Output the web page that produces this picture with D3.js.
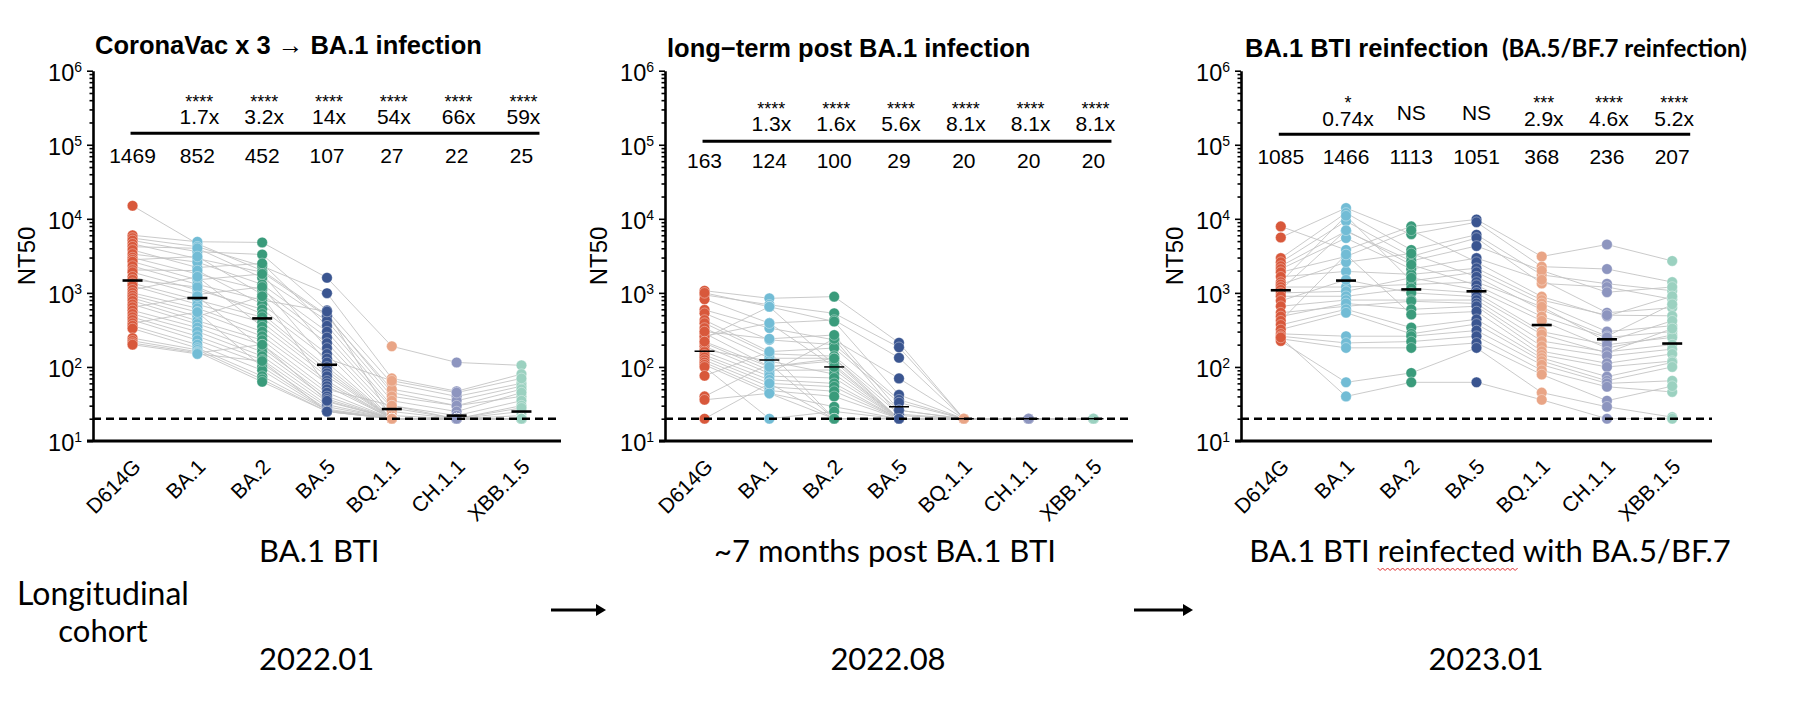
<!DOCTYPE html>
<html><head><meta charset="utf-8">
<script src="https://cdn.jsdelivr.net/npm/d3@7"></script>
<style>body{margin:0;background:#fff} svg{display:block}</style>
</head><body><svg id="c" width="1799" height="724"></svg>
<script>
const categories = ["D614G","BA.1","BA.2","BA.5","BQ.1.1","CH.1.1","XBB.1.5"];
const colors = ["#D8583B","#72BCD5","#3A9B7B","#3A5590","#E9A586","#8D95BF","#9BD1C0"];
const yTickExps = [1,2,3,4,5,6];

// Panel 1: CoronaVac x 3 -> BA.1 infection (one value per subject)
const p1_D614G = [15000,6000,5500,5100,4600,4200,3800,3350,3000,2800,2640,2300,2040,1900,1650,1500,1350,1250,1100,1000,920,850,780,700,640,580,520,470,430,390,360,330,245,225,210,200];
const p1_BA1   = [4600,4900,4200,3600,2900,4000,2200,2600,1800,3100,1500,1300,2000,1100,950,1200,800,700,1650,620,550,480,420,380,900,340,300,260,230,550,200,180,170,160,155,150];
const p1_BA2   = [2000,4800,2300,3300,1900,1600,2500,1300,1100,950,1800,800,700,600,1200,520,470,400,350,300,260,900,230,200,180,160,140,125,110,100,90,75,68,63,200,120];
const p1_BA5   = [500,1600,990,580,480,420,360,300,250,210,180,560,150,130,115,100,90,82,75,65,60,55,50,45,40,37,34,31,29,27,26,26,25,25,35,25];
const p1_BQ11  = [45,190,70,60,50,40,35,30,28,25,22,20,20,65,20,20,20,20,20,20,20,20,30,20,20,20,20,20,20,20,20,20,20,20,20,20];
const p1_CH11  = [30,115,47,40,35,30,25,22,20,20,20,20,20,45,20,20,20,20,20,20,20,20,20,20,20,20,20,20,20,20,20,20,20,20,20,20];
const p1_XBB15 = [40,105,80,60,55,50,45,35,30,25,22,20,20,70,20,20,28,20,20,20,20,20,20,20,20,20,20,20,20,20,20,20,20,20,20,20];
const p1_gmt  = [1469,852,452,107,27,22,25];
const p1_fold = ["","1.7x","3.2x","14x","54x","66x","59x"];
const p1_sig  = ["","****","****","****","****","****","****"];

// Panel 2: long-term post BA.1 infection
const p2_D614G = [1070,940,820,1000,590,530,430,390,335,285,245,210,190,170,160,145,135,124,115,107,100,76,40,36,20,260,300,220];
const p2_BA1   = [845,690,390,650,335,232,161,150,131,101,650,90,82,120,75,67,60,54,48,44,20,160,110,44,60,390,240,100];
const p2_BA2   = [890,530,430,410,232,200,180,140,131,120,107,91,240,80,71,60,54,47,40,29,25,20,20,20,20,100,270,130];
const p2_BA5   = [212,184,133,42,70,36,33,26,23,20,20,20,22,20,20,20,20,20,20,20,20,20,20,20,20,20,26,20];
const p2_BQ11  = [20,20,20,20,20,20,20,20,20,20,20,20,20,20,20,20,20,20,20,20,20,20,20,20,20,20,20,20];
const p2_CH11  = [20,20,20,20,20,20,20,20,20,20,20,20,20,20,20,20,20,20,20,20,20,20,20,20,20,20,20,20];
const p2_XBB15 = [20,20,20,20,20,20,20,20,20,20,20,20,20,20,20,20,20,20,20,20,20,20,20,20,20,20,20,20];
const p2_gmt  = [163,124,100,29,20,20,20];
const p2_fold = ["","1.3x","1.6x","5.6x","8.1x","8.1x","8.1x"];
const p2_sig  = ["","****","****","****","****","****","****"];

// Panel 3: BA.1 BTI reinfection
const p3_D614G = [7900,5600,2950,2600,2300,2100,1900,1650,1400,1300,1200,1100,1000,900,780,660,540,480,420,370,320,280,260,240,224,250];
const p3_BA1   = [3800,14000,12000,9300,6800,5500,3100,1950,11000,2600,1200,7000,1050,900,1500,800,660,720,3300,600,540,260,211,181,62,40];
const p3_BA2   = [7900,6200,3800,3100,2700,2100,7000,1780,1450,3400,1300,2400,1600,1150,1000,800,770,600,510,340,280,260,220,181,83,62];
const p3_BA5   = [9800,9000,6100,5500,4300,2950,2600,2150,1900,1650,1400,1270,1100,1000,890,800,720,660,560,440,380,310,260,211,181,62];
const p3_BQ11  = [3100,2260,1750,1340,2000,1500,890,800,720,590,650,480,420,300,275,224,190,163,145,132,120,107,90,79,45,36];
const p3_CH11  = [4500,2100,1330,1200,1020,540,485,500,300,260,220,250,180,200,155,160,140,112,100,74,65,60,54,35,29,20];
const p3_XBB15 = [2700,1400,1070,820,1200,630,900,490,360,700,420,300,270,250,330,200,174,150,120,115,100,65,46,55,21,20];
const p3_gmt  = [1085,1466,1113,1051,368,236,207];
const p3_fold = ["","0.74x","NS","NS","2.9x","4.6x","5.2x"];
const p3_sig  = ["","*","","","***","****","****"];

const LOD = 20;

const panels = [
  {title:"CoronaVac x 3 \u2192 BA.1 infection", axisX:93, axisEnd:561, titleX:95, titleY:54,
   data:[p1_D614G,p1_BA1,p1_BA2,p1_BA5,p1_BQ11,p1_CH11,p1_XBB15], gmt:p1_gmt, fold:p1_fold, sig:p1_sig,
   sigY:108, foldY:124, lineY:133.3, gmtY:163, barW:2.6},
  {title:"long\u2212term post BA.1 infection", axisX:665, axisEnd:1133, titleX:667, titleY:57,
   data:[p2_D614G,p2_BA1,p2_BA2,p2_BA5,p2_BQ11,p2_CH11,p2_XBB15], gmt:p2_gmt, fold:p2_fold, sig:p2_sig,
   sigY:115, foldY:130.5, lineY:141.3, gmtY:168.3, barW:1.5},
  {title:"BA.1 BTI reinfection", subtitle:"(BA.5/BF.7 reinfection)", axisX:1241, axisEnd:1712, titleX:1245, titleY:57,
   data:[p3_D614G,p3_BA1,p3_BA2,p3_BA5,p3_BQ11,p3_CH11,p3_XBB15], gmt:p3_gmt, fold:p3_fold, sig:p3_sig,
   sigY:109, foldY:126, lineY:134.3, gmtY:164.3, barW:2.6}
];

const svg = d3.select("#c");
svg.append("rect").attr("width",1799).attr("height",724).attr("fill","#fff");
const FONT = "'Liberation Sans', Arial, sans-serif";
const y = d3.scaleLog().domain([10,1e6]).range([441,70.7]);

panels.forEach(p => {
  const g = svg.append("g");
  const x = d3.scalePoint().domain(categories).range([p.axisX, p.axisEnd]).padding(0.61);
  const n = p.data[0].length;
  const subjects = d3.range(n).map(i => categories.map((c,j) => [c, p.data[j][i]]));
  const line = d3.line().x(d => x(d[0])).y(d => y(d[1]));
  g.append("g").selectAll("path").data(subjects).join("path")
    .attr("d", line).attr("fill","none").attr("stroke","#c4c4c4").attr("stroke-width",0.9);
  categories.forEach((c,j) => {
    g.append("g").selectAll("circle").data(p.data[j]).join("circle")
      .attr("cx", x(c)).attr("cy", d => y(d)).attr("r", 5.3)
      .attr("fill", colors[j]).attr("stroke","#fff").attr("stroke-width",0.5).attr("stroke-opacity",0.7);
  });
  // detection limit
  g.append("line").attr("x1",p.axisX).attr("x2",p.axisEnd).attr("y1",y(LOD)).attr("y2",y(LOD))
    .attr("stroke","#000").attr("stroke-width",2.6).attr("stroke-dasharray","8,5");
  // GMT bars
  g.append("g").selectAll("line").data(p.gmt).join("line")
    .attr("x1",(d,j)=>x(categories[j])-10).attr("x2",(d,j)=>x(categories[j])+10)
    .attr("y1",d=>y(d)).attr("y2",d=>y(d)).attr("stroke","#000").attr("stroke-width",p.barW);

  // y axis
  const minor = [];
  for (let e=1;e<6;e++) for (let k=1;k<10;k++) minor.push(k*Math.pow(10,e));
  minor.push(1e6);
  const ya = g.append("g").attr("transform",`translate(${p.axisX},0)`)
    .call(d3.axisLeft(y).tickValues(minor).tickSize(6).tickSizeOuter(0).tickFormat(""));
  ya.select(".domain").attr("stroke-width",2.6);
  ya.selectAll(".tick line").attr("stroke-width",1.6)
    .attr("x2", d => { const l = Math.log10(d); return Math.abs(l-Math.round(l))<1e-9 ? -6 : -3.5; });
  yTickExps.forEach(e => {
    const t = g.append("text").attr("x", p.axisX-11).attr("y", y(Math.pow(10,e))+10)
      .attr("text-anchor","end").attr("font-family",FONT).attr("fill","#000");
    t.append("tspan").attr("font-size",23.5).text("10");
    t.append("tspan").attr("font-size",14).attr("dy",-9).text(e);
  });
  // x axis
  const xa = g.append("g").attr("transform",`translate(0,${y(10)})`)
    .call(d3.axisBottom(x).tickSize(0).tickSizeOuter(0));
  xa.select(".domain").attr("stroke-width",3).attr("d",`M${p.axisX-6},0H${p.axisEnd}`);
  xa.selectAll("text").attr("font-family",FONT).attr("font-size",21).attr("fill","#000")
    .attr("text-anchor","end").attr("x",0).attr("y",0).attr("dy",0)
    .attr("transform","translate(9,27) rotate(-45)");
  // y label
  g.append("text").attr("transform",`translate(${p.axisX-58},256) rotate(-90)`)
    .attr("text-anchor","middle").attr("font-family",FONT).attr("font-size",24).text("NT50");
  // title
  g.append("text").attr("x",p.titleX).attr("y",p.titleY).attr("font-family",FONT)
    .attr("font-weight","bold").attr("font-size",25.5).text(p.title);
  if (p.subtitle) {
    g.append("text").attr("x",1502).attr("y",p.titleY).attr("font-family","Lato, 'Open Sans', sans-serif")
      .attr("font-weight","bold").attr("font-size",24).text(p.subtitle);
  }
  // header annotations
  g.append("line").attr("x1",x(categories[0])-2).attr("x2",x(categories[6])+18)
    .attr("y1",p.lineY).attr("y2",p.lineY).attr("stroke","#000").attr("stroke-width",3);
  categories.forEach((c,j) => {
    g.append("text").attr("x",x(c)).attr("y",p.gmtY).attr("text-anchor","middle")
      .attr("font-family",FONT).attr("font-size",21).text(p.gmt[j]);
    if (p.fold[j] || p.sig[j]) {
      const isNS = p.fold[j] === "NS";
      const t = g.append("text").attr("text-anchor","middle").attr("font-family",FONT);
      if (p.sig[j]) t.append("tspan").attr("x",x(c)+2).attr("y",p.sigY).attr("font-size",18).text(p.sig[j]);
      t.append("tspan").attr("x",x(c)+(isNS?0:2)).attr("y",isNS?p.foldY-6:p.foldY)
        .attr("font-size",21).text(p.fold[j]);
    }
  });
});

// bottom annotation
const BF = "Lato, 'Open Sans', sans-serif";
const notes = [
  {t:"Longitudinal", x:103, y:605, a:"middle"},
  {t:"cohort", x:103, y:642, a:"middle"},
  {t:"BA.1 BTI", x:259, y:562, a:"start"},
  {t:"2022.01", x:259, y:670, a:"start"},
  {t:"~7 months post BA.1 BTI", x:885, y:562, a:"middle"},
  {t:"2022.08", x:888, y:670, a:"middle"},
  {t:"BA.1 BTI reinfected with BA.5/BF.7", x:1490, y:562, a:"middle", id:"reinf"},
  {t:"2023.01", x:1486, y:670, a:"middle"}
];
notes.forEach(n => {
  svg.append("text").attr("id",n.id||null).attr("x",n.x).attr("y",n.y).attr("text-anchor",n.a)
    .attr("font-family",BF).attr("font-size",n.t==="Longitudinal"?32:31).attr("fill","#000").text(n.t);
});
// squiggle under "reinfected"
const rt = document.getElementById("reinf");
const s0 = rt.getStartPositionOfChar(9).x, s1 = rt.getEndPositionOfChar(18).x;
let dpath = `M${s0},568`;
for (let xx=s0, k=0; xx<s1; xx+=2.5, k++) dpath += `L${xx+2.5},${k%2?568:570.5}`;
svg.append("path").attr("d",dpath).attr("fill","none").attr("stroke","#e03030").attr("stroke-width",1);
// arrows
[[551,606],[1134,1193]].forEach(([a,b]) => {
  svg.append("line").attr("x1",a).attr("x2",b-8).attr("y1",610).attr("y2",610).attr("stroke","#000").attr("stroke-width",3);
  svg.append("path").attr("d",`M${b-10},604L${b},610L${b-10},616Z`).attr("fill","#000");
});
</script></body></html>
